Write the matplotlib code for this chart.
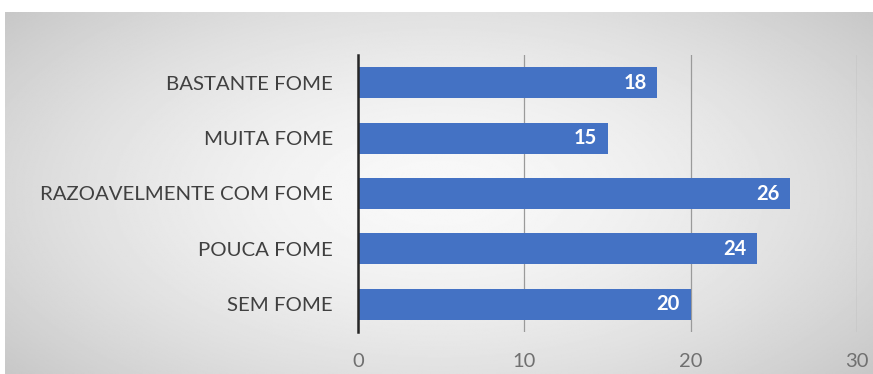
import numpy as np
import matplotlib
matplotlib.use("Agg")
import matplotlib.pyplot as plt

categories = ["BASTANTE FOME", "MUITA FOME", "RAZOAVELMENTE COM FOME", "POUCA FOME", "SEM FOME"]
values = [18, 15, 26, 24, 20]
xticks = [0, 10, 20, 30]

label_font = "Lato"

W, H = 873, 374
fig = plt.figure(figsize=(W / 100, H / 100), dpi=100)
fig.patch.set_facecolor("white")

# radial gradient backdrop
bg = fig.add_axes([5 / W, 0, 1 - 5 / W, 1 - 12 / H], zorder=0)
yy, xx = np.mgrid[0:1:300j, 0:1:600j]
r = np.sqrt(((xx - 0.5) / 0.62) ** 2 + ((yy - 0.5) / 0.75) ** 2)
shade = np.clip(0.975 - 0.18 * r ** 1.6, 0.78, 0.98)
bg.imshow(shade, cmap="gray", vmin=0, vmax=1, aspect="auto", extent=[0, 1, 0, 1])
bg.set_axis_off()

ax = fig.add_axes([358 / W, 1 - 332 / H, (857 - 358) / W, (332 - 55) / H], zorder=1)
ax.patch.set_alpha(0)
y = np.arange(len(categories))
bars = ax.barh(y, values, height=0.56, color="#4472C4", zorder=3)
ax.set_ylim(len(categories) - 0.5, -0.5)
ax.set_xlim(0, 30)
ax.set_yticks(y)
ax.set_yticklabels(categories, fontsize=14.7, color="#404040", family=label_font)
ax.set_xticks(xticks)
ax.set_xticklabels([str(t) for t in xticks], fontsize=14.5, color="#707070", family=label_font)
ax.tick_params(axis="y", length=0, pad=18)
ax.tick_params(axis="x", length=0, pad=15)
ax.grid(axis="x", color="#9a9a9a", linewidth=0.9, zorder=1)
for s in ["top", "right", "bottom"]:
    ax.spines[s].set_visible(False)
ax.spines["left"].set_color("#262626")
ax.spines["left"].set_linewidth(1.8)
ax.spines["left"].set_zorder(4)

for b, v in zip(bars, values):
    ax.text(v - 0.65, b.get_y() + b.get_height() / 2, str(v), ha="right", va="center",
            color="white", fontsize=14.5, fontweight="bold", family=label_font, zorder=5)

fig.savefig("out.png", dpi=100)
